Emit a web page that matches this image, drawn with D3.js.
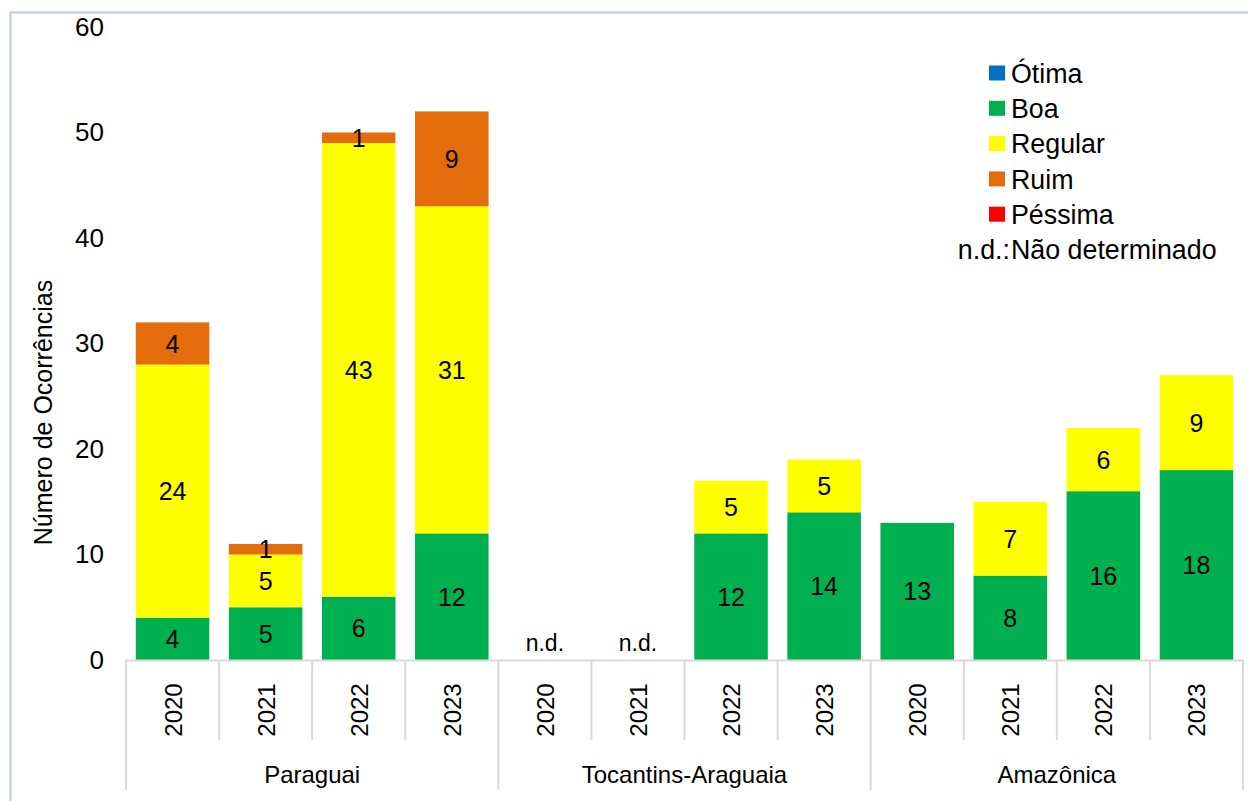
<!DOCTYPE html>
<html>
<head>
<meta charset="utf-8">
<script src="https://cdn.jsdelivr.net/npm/d3@7"></script>
<style>
  html, body { margin: 0; padding: 0; background: #fff; }
  svg text { font-family: "Liberation Sans", Arial, sans-serif; fill: #000; }
</style>
</head>
<body>
<svg id="chart" width="1248" height="801"></svg>
<script>
// Water quality occurrences per basin and year
const basins = ["Paraguai", "Tocantins-Araguaia", "Amazônica"];
const years = ["2020", "2021", "2022", "2023"];
const classes = ["Ótima", "Boa", "Regular", "Ruim", "Péssima"];
const classColors = ["#0070C0", "#00B050", "#FFFF00", "#E46C0A", "#FF0000"];

// one entry per basin/year, order: Paraguai 2020..2023, Tocantins 2020..2023, Amazônica 2020..2023
const otima   = [0, 0, 0, 0,   0, 0, 0, 0,    0, 0, 0, 0];
const boa     = [4, 5, 6, 12,  0, 0, 12, 14,  13, 8, 16, 18];
const regular = [24, 5, 43, 31, 0, 0, 5, 5,   0, 7, 6, 9];
const ruim    = [4, 1, 1, 9,   0, 0, 0, 0,    0, 0, 0, 0];
const pessima = [0, 0, 0, 0,   0, 0, 0, 0,    0, 0, 0, 0];
const notDetermined = [false, false, false, false, true, true, false, false, false, false, false, false];

const yTicks = [0, 10, 20, 30, 40, 50, 60];

const svg = d3.select("#chart");

// outer frame
svg.append("rect")
  .attr("x", 10.5).attr("y", 12.5)
  .attr("width", 1248).attr("height", 800)
  .attr("fill", "none").attr("stroke", "#B9CDE5").attr("stroke-width", 2);

const plotLeft = 126, plotRight = 1243, plotTop = 27, plotBottom = 660;

const rows = [];
basins.forEach((b, bi) => years.forEach((yr, yi) => {
  const i = bi * years.length + yi;
  rows.push({
    key: b + "|" + yr, basin: b, year: yr,
    "Ótima": otima[i], "Boa": boa[i], "Regular": regular[i], "Ruim": ruim[i], "Péssima": pessima[i],
    nd: notDetermined[i]
  });
}));

const x = d3.scaleBand().domain(rows.map(d => d.key)).range([plotLeft, plotRight]).paddingInner(0.21).paddingOuter(0.105);
const y = d3.scaleLinear().domain([0, 60]).range([plotBottom, plotTop]);
const color = d3.scaleOrdinal().domain(classes).range(classColors);

const stacked = d3.stack().keys(classes)(rows);

const gBars = svg.append("g");
stacked.forEach(layer => {
  gBars.selectAll(null).data(layer.filter(d => d[1] > d[0])).enter().append("rect")
    .attr("x", d => x(d.data.key))
    .attr("width", x.bandwidth())
    .attr("y", d => y(d[1]))
    .attr("height", d => y(d[0]) - y(d[1]))
    .attr("fill", color(layer.key));
});

// value labels centred in each segment
stacked.forEach(layer => {
  gBars.selectAll(null).data(layer.filter(d => d[1] > d[0])).enter().append("text")
    .attr("x", d => x(d.data.key) + x.bandwidth() / 2)
    .attr("y", d => y((d[0] + d[1]) / 2))
    .attr("dy", "0.36em")
    .attr("text-anchor", "middle")
    .attr("font-size", 25)
    .text(d => d[1] - d[0]);
});

// n.d. markers
gBars.selectAll(null).data(rows.filter(d => d.nd)).enter().append("text")
  .attr("x", d => x(d.key) + x.bandwidth() / 2)
  .attr("y", y(0) - 9)
  .attr("text-anchor", "middle")
  .attr("font-size", 23)
  .text("n.d.");

// y axis (labels only)
const yAxis = d3.axisLeft(y).tickValues(yTicks).tickSize(0).tickPadding(0);
const gy = svg.append("g").attr("transform", `translate(${plotLeft - 22},0)`).call(yAxis);
gy.select(".domain").remove();
gy.selectAll("text").attr("font-size", 26).attr("font-family", "Liberation Sans, Arial, sans-serif").attr("fill", "#000");

svg.append("text")
  .attr("transform", `translate(52,${(plotTop + plotBottom) / 2 + 69}) rotate(-90)`)
  .attr("text-anchor", "middle")
  .attr("font-size", 25)
  .text("Número de Ocorrências");

// category axis: baseline, separators, year and basin labels
const gx = svg.append("g");
const lineColor = "#D9D9D9";
gx.append("line").attr("x1", plotLeft).attr("x2", plotRight).attr("y1", plotBottom + 0.5).attr("y2", plotBottom + 0.5)
  .attr("stroke", lineColor).attr("stroke-width", 2);

const step = x.step();
const edges = d3.range(rows.length + 1).map(i => plotLeft + i * step);
edges.forEach((ex, i) => {
  const groupEdge = i % years.length === 0;
  gx.append("line")
    .attr("x1", ex).attr("x2", ex)
    .attr("y1", plotBottom).attr("y2", groupEdge ? 790 : 740)
    .attr("stroke", lineColor).attr("stroke-width", 2);
});

gx.selectAll(null).data(rows).enter().append("text")
  .attr("transform", d => `translate(${x(d.key) + x.bandwidth() / 2 + 9},710) rotate(-90)`)
  .attr("text-anchor", "middle")
  .attr("font-size", 24)
  .text(d => d.year);

gx.selectAll(null).data(basins).enter().append("text")
  .attr("x", (d, i) => plotLeft + (i * years.length + years.length / 2) * step)
  .attr("y", 783)
  .attr("text-anchor", "middle")
  .attr("font-size", 24)
  .text(d => d);

// legend
const legend = svg.append("g");
const legX = 989, legY0 = 73, legStep = 35.3;
classes.forEach((c, i) => {
  const cy = legY0 + i * legStep;
  legend.append("rect").attr("x", legX).attr("y", cy - 7.5).attr("width", 16).attr("height", 15)
    .attr("fill", color(c));
  legend.append("text").attr("x", legX + 22).attr("y", cy).attr("dy", "0.36em")
    .attr("font-size", 26.8).text(c);
});
const ndY = legY0 + classes.length * legStep;
legend.append("text").attr("x", legX + 21).attr("y", ndY).attr("dy", "0.36em")
  .attr("text-anchor", "end").attr("font-size", 26.8).text("n.d.:");
legend.append("text").attr("x", legX + 22).attr("y", ndY).attr("dy", "0.36em")
  .attr("font-size", 26.8).text("Não determinado");
</script>
</body>
</html>
